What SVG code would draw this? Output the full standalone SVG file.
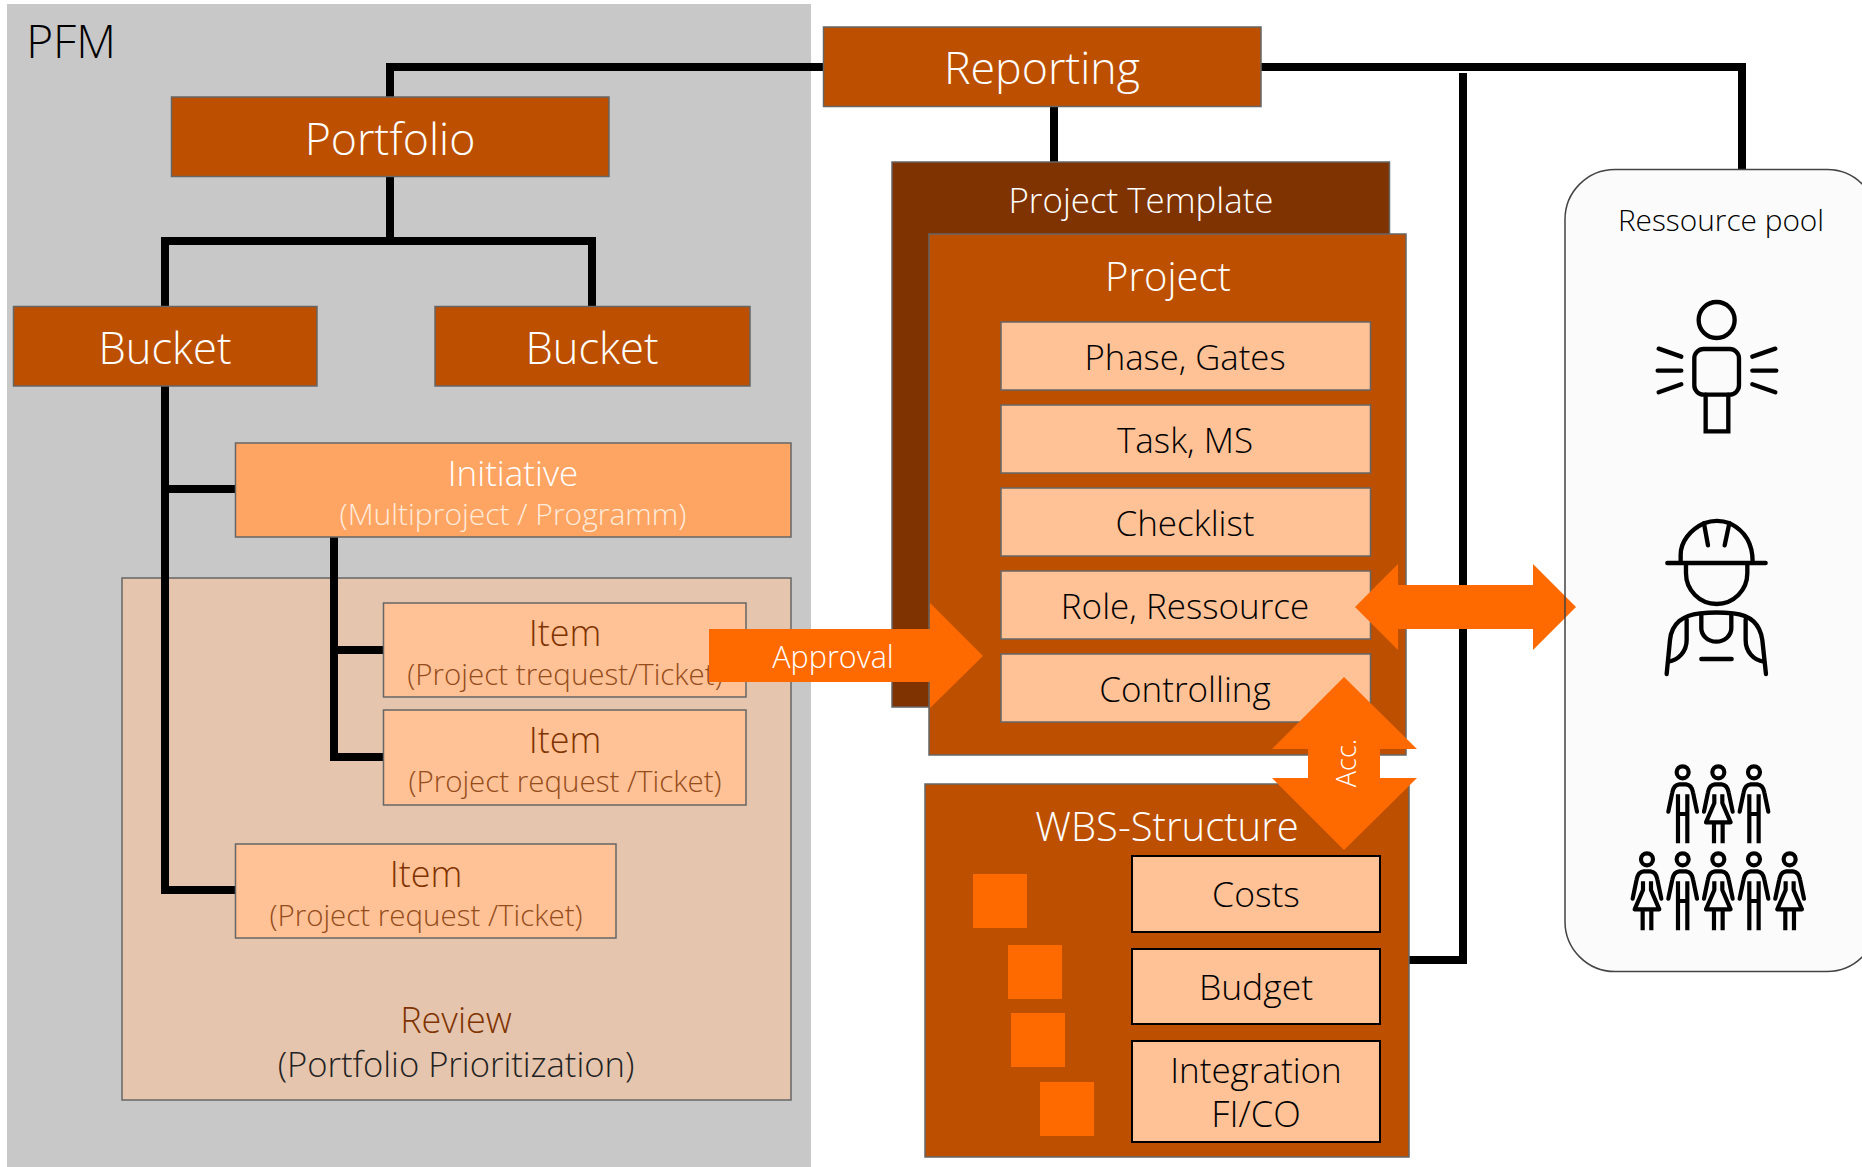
<svg xmlns="http://www.w3.org/2000/svg" width="1862" height="1167" viewBox="0 0 1862 1167">
<style>
text{font-family:"Open Sans","Noto Sans","Liberation Sans",sans-serif;font-weight:300;text-anchor:middle}
.b{stroke:#666;stroke-width:1.5}
.dk{fill:#BD5000}
.lt{fill:#FFC196}
.w{fill:#fff}
.k{fill:#000}
.br{fill:#7F3300}
.sub{fill:#944C1A}
.t45{font-size:44.7px}
.t43{font-size:43.5px}
.t36{font-size:35px}
.t30{font-size:29.5px}
.conn{fill:none;stroke:#000;stroke-width:8}
.arr{fill:#FF6A00}
.ic{fill:none;stroke:#000;stroke-width:13;stroke-linecap:round;stroke-linejoin:round}
.sq{fill:#FF6A00}
.wb{fill:#FFC196;stroke:#000;stroke-width:2}
</style>
<defs>
<g id="man"><circle cx="0" cy="0" r="18"/><path d="M-43,118 L-31,60 Q-27,38 -10,36 H10 Q27,38 31,60 L43,118"/><path d="M-14,66 V213 M14,66 V213 M-14,125 H14" stroke-linecap="butt"/></g>
<g id="woman"><circle cx="0" cy="0" r="18"/><path d="M-43,118 L-31,60 Q-27,38 -10,36 H10 Q27,38 31,60 L43,118"/><path d="M-12,66 V92 L-37,150 H37 L12,92 V66" stroke-linecap="butt"/><path d="M-13,150 V213 M13,150 V213" stroke-linecap="butt"/></g>
</defs>
<rect width="1862" height="1167" fill="#fff"/>
<g id="pfm"><rect x="7" y="4" width="804" height="1163" fill="#C8C8C8"/><text x="71" y="58" class="k" style="font-size:46px">PFM</text></g>
<g id="review"><rect x="122" y="578" width="669" height="522" fill="#E5C5AE" class="b"/><text x="456" y="1033" class="br" style="font-size:36px">Review</text><text x="456" y="1077" style="font-size:34.6px" fill="#222">(Portfolio Prioritization)</text></g>
<g id="connectors">
<path class="conn" d="M823,67 H390 V97"/>
<path class="conn" d="M390,177 V241 M165,306 V241 H592 V306"/>
<path class="conn" d="M165,386 V890 H235 M165,489 H235"/>
<path class="conn" d="M334,537 V757 H383 M334,650 H383"/>
<path class="conn" d="M1054,107 V162"/>
<path class="conn" d="M1261,67 H1742 V169"/>
<path class="conn" d="M1409,960 H1463 V73"/>
</g>
<g id="reporting"><rect x="823.5" y="27" width="437.5" height="79.5" class="dk b"/><text x="1042" y="84" class="t45 w">Reporting</text></g>
<g id="portfolio"><rect x="171.5" y="97" width="437.5" height="79.5" class="dk b"/><text x="390" y="155" class="t45 w">Portfolio</text></g>
<g id="bucket1"><rect x="13.5" y="306.5" width="303.5" height="79.5" class="dk b"/><text x="165" y="363.5" class="t43 w">Bucket</text></g>
<g id="bucket2"><rect x="435" y="306.5" width="315" height="79.5" class="dk b"/><text x="592" y="363.5" class="t43 w">Bucket</text></g>
<g id="initiative"><rect x="235.5" y="443" width="555.5" height="94" fill="#FFA563" class="b"/><text x="513" y="485.5" class="t36 w">Initiative</text><text x="513" y="525" style="font-size:30px" fill="#FFEBDC">(Multiproject / Programm)</text></g>
<g id="item1"><rect x="383.5" y="603" width="362.5" height="94" class="lt b"/><text x="565" y="646" class="br" style="font-size:36px">Item</text><text x="565" y="685" class="t30 sub">(Project trequest/Ticket)</text></g>
<g id="item2"><rect x="383.5" y="710" width="362.5" height="95" class="lt b"/><text x="565" y="753" class="br" style="font-size:36px">Item</text><text x="565" y="792" class="t30 sub">(Project request /Ticket)</text></g>
<g id="item3"><rect x="235.5" y="844" width="380.5" height="94" class="lt b"/><text x="426" y="887" class="br" style="font-size:36px">Item</text><text x="426" y="926" class="t30 sub">(Project request /Ticket)</text></g>
<g id="template"><rect x="892" y="162" width="497.5" height="545" fill="#7F3300" class="b"/><text x="1141" y="213" class="w" style="font-size:34.9px">Project Template</text></g>
<g id="project"><rect x="929" y="234" width="477" height="521" class="dk b"/><text x="1168" y="291" class="w" style="font-size:40px">Project</text></g>
<g id="phase"><rect x="1001" y="322" width="369.5" height="68" class="lt b"/><text x="1185" y="370" style="font-size:34.7px" class="k">Phase, Gates</text></g>
<g id="task"><rect x="1001" y="405" width="369.5" height="68" class="lt b"/><text x="1185" y="453" class="t36 k">Task, MS</text></g>
<g id="checklist"><rect x="1001" y="488" width="369.5" height="68" class="lt b"/><text x="1185" y="536" class="t36 k">Checklist</text></g>
<g id="role"><rect x="1001" y="571" width="369.5" height="68" class="lt b"/><text x="1185" y="619" class="t36 k">Role, Ressource</text></g>
<g id="controlling"><rect x="1001" y="654" width="369.5" height="68" class="lt b"/><text x="1185" y="702" class="t36 k">Controlling</text></g>
<g id="wbs"><rect x="925" y="784" width="484" height="373" class="dk b"/><text x="1167" y="841" class="w" style="font-size:40px">WBS-Structure</text>
<rect x="973" y="874" width="54" height="54" class="sq"/><rect x="1008" y="945" width="54" height="54" class="sq"/><rect x="1011" y="1013" width="54" height="54" class="sq"/><rect x="1040" y="1082" width="54" height="54" class="sq"/></g>
<g id="costs"><rect x="1132" y="856" width="248" height="76" class="wb"/><text x="1256" y="907" class="k" style="font-size:35.5px">Costs</text></g>
<g id="budget"><rect x="1132" y="949" width="248" height="75" class="wb"/><text x="1256" y="1000" class="k" style="font-size:35.5px">Budget</text></g>
<g id="integration"><rect x="1132" y="1041" width="248" height="101" class="wb"/><text x="1256" y="1082.5" class="t36 k">Integration</text><text x="1256" y="1127" class="k" style="font-size:36px">FI/CO</text></g>
<g id="pool"><rect x="1565" y="169.5" width="312" height="802" rx="50" fill="#FBFBFB"/>
<text x="1721" y="231" class="k" style="font-size:29.8px">Ressource pool</text>
<g transform="translate(1560,160) scale(.3333)" class="ic">
<circle cx="470" cy="480" r="54"/><rect x="403" y="567" width="134" height="137" rx="28"/><path d="M437,704 V814 H505 V704" stroke-linejoin="miter"/>
<path d="M296,566 L364,590 M293,632 H364 M296,697 L364,673 M646,566 L577,590 M649,632 H577 M646,697 L577,673"/></g>
<g transform="translate(1560,480) scale(.3333)" class="ic">
<path d="M362,245 V225 C362,185 390,150 432,130 Q470,115 510,130 C550,150 578,185 578,245"/><path d="M322,249 H617 M432,130 L444,196 M508,130 L494,196"/>
<path d="M378,250 V280 A92,92 0 0 0 562,280 V250"/>
<path d="M320,582 L330,480 C335,430 370,405 420,400 Q470,395 520,400 C570,405 600,430 607,480 L618,582"/>
<path d="M380,418 V480 C380,515 355,540 325,545 M557,418 V480 C557,515 580,540 612,545 M424,405 V445 A45,40 0 0 0 514,445 V405 M424,537 H515"/></g>
<g transform="translate(1560,740) scale(.3333)" class="ic" style="stroke-width:12.5">
<use href="#man" x="368" y="97"/><use href="#woman" x="475" y="97"/><use href="#man" x="582" y="97"/>
<use href="#woman" x="261" y="358"/><use href="#man" x="368" y="358"/><use href="#woman" x="475" y="358"/><use href="#man" x="582" y="358"/><use href="#woman" x="689" y="358"/></g>
</g>
<g id="approval"><path class="arr" d="M709,629 H930 V603 L983,656 L930,708 V682 H709 Z"/><text x="833" y="668" class="w" style="font-size:30.5px">Approval</text></g>
<g id="rolearrow"><path class="arr" d="M1355,607 L1398,564 V585 H1533 V564 L1576,607 L1533,650 V629 H1398 V650 Z"/></g>
<rect id="poolborder" x="1565" y="169.5" width="312" height="802" rx="50" fill="none" stroke="#444" stroke-width="1.5"/>
<g id="acc"><path class="arr" d="M1344,677 L1417,749 H1380 V778 H1417 L1344,850 L1272,778 H1308 V749 H1272 Z"/><text transform="translate(1356,763) rotate(-90)" class="w" style="font-size:27px">Acc.</text></g>
</svg>
